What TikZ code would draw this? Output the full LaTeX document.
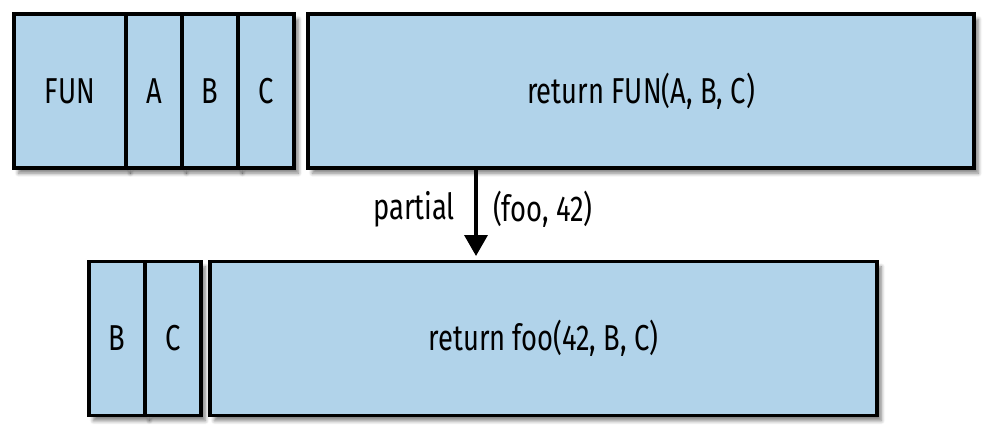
\documentclass[tikz,border=0pt]{standalone}
\usepackage{fontspec}
\setmainfont[FakeStretch=0.76]{Fira Sans}
\usepackage{tikz}
\usetikzlibrary{arrows.meta,shadows.blur}
\definecolor{cellblue}{HTML}{B1D3EA}

\begin{document}
\begin{tikzpicture}[
    x=0.02cm, y=-0.02cm,
    cell/.style={rectangle, draw=black, fill=cellblue, line width=2pt, inner sep=0pt,
        minimum height=3.08cm, font=\fontsize{20.5}{24}\selectfont,
        blur shadow={shadow xshift=2.5pt, shadow yshift=-3pt, shadow blur steps=6, shadow opacity=50}},
    flow/.style={-{Triangle[width=0.46cm,length=0.42cm]}, line width=2pt},
    lbl/.style={font=\fontsize{20.5}{24}\selectfont}
]
\useasboundingbox (0,0) rectangle (1000,445);
% top row: the full call
\node[cell, minimum width=2.24cm] (fun) at (70,91) {FUN};
\node[cell, minimum width=1.12cm] (a) at (154,91) {A};
\node[cell, minimum width=1.12cm] (b) at (210,91) {B};
\node[cell, minimum width=1.12cm] (c) at (266,91) {C};
\node[cell, minimum width=13.32cm] (ret) at (641,91) {return FUN(A, B, C)};
% bottom row: after partial
\node[cell, minimum width=1.12cm] (pb) at (117,338.5) {B};
\node[cell, minimum width=1.12cm] (pc) at (173,338.5) {C};
\node[cell, minimum width=13.34cm] (pret) at (543.5,338.5) {return foo(42, B, C)};
% arrow
\coordinate (split) at (476,0);
\coordinate (tip) at (476,256);
\draw[flow] (ret.south -| split) -- (tip)
    node[lbl, pos=0.46, anchor=east, xshift=-0.27cm] (partial) {partial}
    node[lbl, pos=0.46, anchor=west, xshift=0.19cm] (args) {(foo, 42)};
\end{tikzpicture}
\end{document}
